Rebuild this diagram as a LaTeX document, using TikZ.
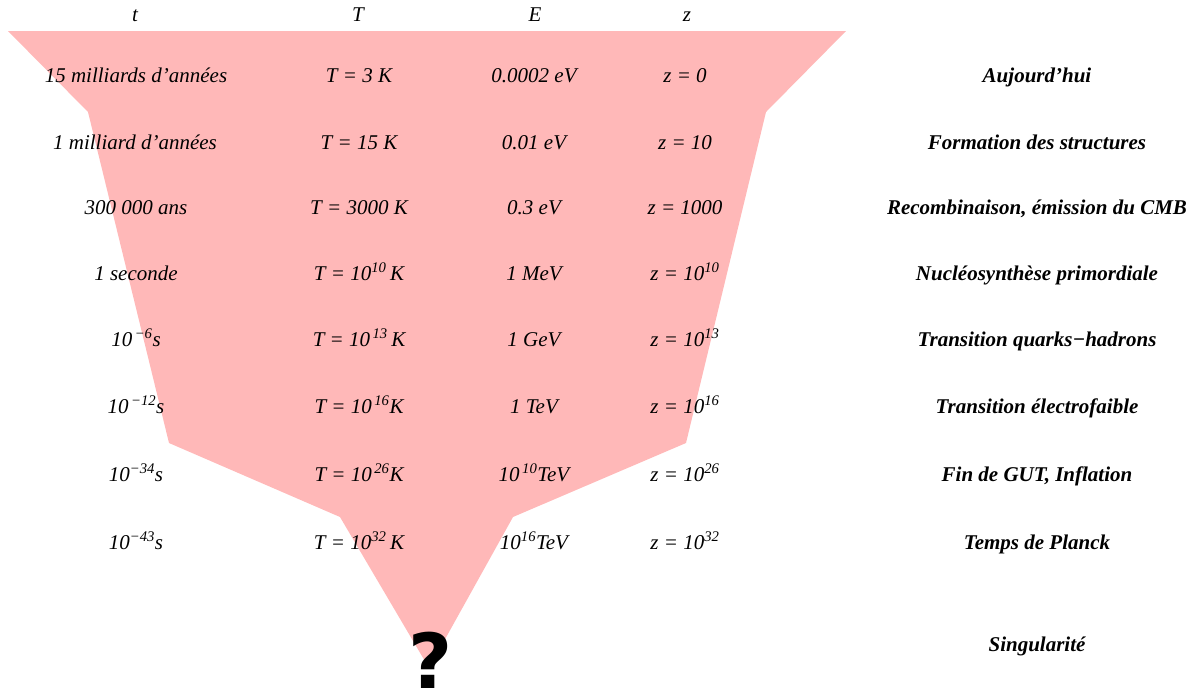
\documentclass[tikz,border=0pt]{standalone}
\usepackage{fontspec}
\setmainfont{Liberation Serif}
\newfontfamily\qfont{DejaVu Sans}
\definecolor{cone}{RGB}{255,184,184}
\begin{document}
\begin{tikzpicture}[x=1pt,y=-1pt,
  lbl/.style={anchor=base,inner sep=0pt,font=\fontsize{21}{24}\selectfont\itshape},
  ev/.style={anchor=base,inner sep=0pt,font=\fontsize{21}{24}\selectfont\bfseries\itshape}]
\useasboundingbox (0,0) rectangle (1196,696);
% cone
\fill[cone] (8,31) -- (846,31) -- (766,112) -- (686,443) -- (513,517) -- (429,668)
  -- (340,517) -- (169,443) -- (88,112) -- cycle;
% headers
\node[lbl] (ht) at (135,21) {t};
\node[lbl] (hT) at (358,21) {T};
\node[lbl] (hE) at (535,21) {E};
\node[lbl] (hz) at (687,21) {z};
% column t
\node[lbl] (t1) at (136,82) {15 milliards d’années};
\node[lbl] (t2) at (135,149) {1 milliard d’années};
\node[lbl] (t3) at (136,214) {300 000 ans};
\node[lbl] (t4) at (136,280) {1 seconde};
\node[lbl] (t5) at (136,346) {10\textsuperscript{\,−6}s};
\node[lbl] (t6) at (136,413) {10\textsuperscript{\,−12}s};
\node[lbl] (t7) at (136,481) {10\textsuperscript{−34}s};
\node[lbl] (t8) at (136,549) {10\textsuperscript{−43}s};
% column T
\node[lbl] (T1) at (359,82) {T = 3 K};
\node[lbl] (T2) at (359,149) {T = 15 K};
\node[lbl] (T3) at (359,214) {T = 3000 K};
\node[lbl] (T4) at (359,280) {T = 10\textsuperscript{10}\,K};
\node[lbl] (T5) at (359,346) {T = 10\textsuperscript{\,13}\,K};
\node[lbl] (T6) at (359,413) {T = 10\textsuperscript{\,16}K};
\node[lbl] (T7) at (359,481) {T = 10\textsuperscript{\,26}K};
\node[lbl] (T8) at (359,549) {T = 10\textsuperscript{32}\,K};
% column E
\node[lbl] (E1) at (534,82) {0.0002 eV};
\node[lbl] (E2) at (534,149) {0.01 eV};
\node[lbl] (E3) at (534,214) {0.3 eV};
\node[lbl] (E4) at (534,280) {1 MeV};
\node[lbl] (E5) at (534,346) {1 GeV};
\node[lbl] (E6) at (534,413) {1 TeV};
\node[lbl] (E7) at (534,481) {10\textsuperscript{\,10}TeV};
\node[lbl] (E8) at (534,549) {10\textsuperscript{16}TeV};
% column z
\node[lbl] (z1) at (685,82) {z = 0};
\node[lbl] (z2) at (685,149) {z = 10};
\node[lbl] (z3) at (685,214) {z = 1000};
\node[lbl] (z4) at (685,280) {z = 10\textsuperscript{10}};
\node[lbl] (z5) at (685,346) {z = 10\textsuperscript{13}};
\node[lbl] (z6) at (685,413) {z = 10\textsuperscript{16}};
\node[lbl] (z7) at (685,481) {z = 10\textsuperscript{26}};
\node[lbl] (z8) at (685,549) {z = 10\textsuperscript{32}};
% events
\node[ev] (e1) at (1037,82) {Aujourd’hui};
\node[ev] (e2) at (1037,149) {Formation des structures};
\node[ev] (e3) at (1037,214) {Recombinaison, émission du CMB};
\node[ev] (e4) at (1037,280) {Nucléosynthèse primordiale};
\node[ev] (e5) at (1037,346) {Transition quarks−hadrons};
\node[ev] (e6) at (1037,413) {Transition électrofaible};
\node[ev] (e7) at (1037,481) {Fin de GUT, Inflation};
\node[ev] (e8) at (1037,549) {Temps de Planck};
\node[ev] (e9) at (1037,651) {Singularité};
% question mark
\node[anchor=base,inner sep=0pt,font=\fontsize{76}{76}\selectfont\qfont\bfseries] (q) at (431,688) {?};
\end{tikzpicture}
\end{document}
